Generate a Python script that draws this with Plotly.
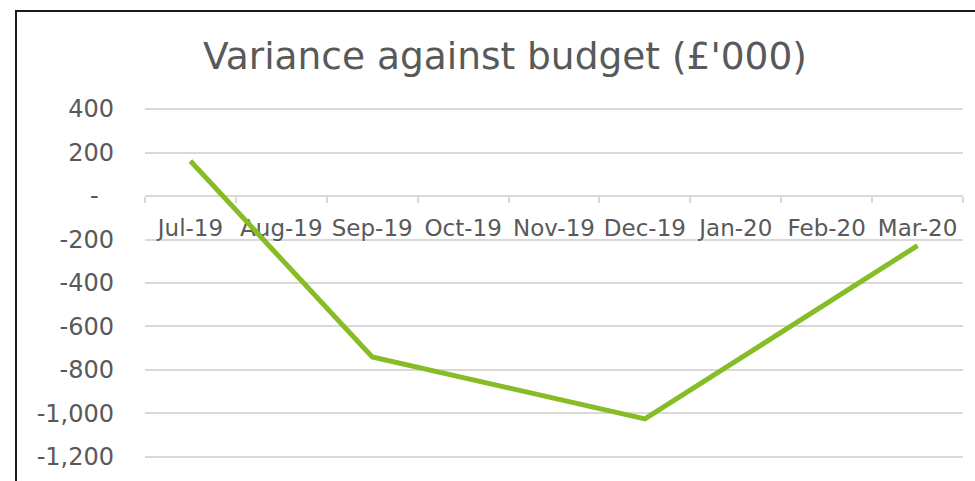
import plotly.graph_objects as go

months = ["Jul-19", "Aug-19", "Sep-19", "Oct-19", "Nov-19", "Dec-19", "Jan-20", "Feb-20", "Mar-20"]
variance = [161, None, -740, None, None, -1025, None, None, -228]

y_tickvals = [400, 200, 0, -200, -400, -600, -800, -1000, -1200]
y_ticktext = ["400", "200", "-\u2007", "-200", "-400", "-600", "-800", "-1,000", "-1,200"]

W, H = 975, 481
ML, MR, MT, MB = 145, 12, 108, 23
ymin, ymax = -1205, 405
pw = W - ML - MR
ph = H - MT - MB

GREY = "#595959"
GRID = "#d9d9d9"
FONT = "DejaVu Sans"

fig = go.Figure()
fig.add_trace(go.Scatter(
    x=months, y=variance, mode="lines", connectgaps=True,
    line=dict(color="#86BC25", width=5),
    showlegend=False, hoverinfo="x+y",
))

fig.update_layout(
    width=W, height=H,
    margin=dict(l=ML, r=MR, t=MT, b=MB, autoexpand=False),
    paper_bgcolor="white", plot_bgcolor="white",
    font=dict(family=FONT, color=GREY, size=24),
    title=dict(text="Variance against budget (£'000)", font=dict(family=FONT, size=37.5, color=GREY),
               x=505 / W, xref="container", xanchor="center",
               y=1 - 56 / H, yref="container", yanchor="middle"),
    xaxis=dict(
        type="category", categoryarray=months, categoryorder="array",
        range=[-0.5, len(months) - 0.5],
        anchor="free", position=(0 - ymin) / (ymax - ymin),
        showline=True, linecolor=GRID, linewidth=1.5,
        ticks="outside", ticklen=6, tickwidth=1.5, tickcolor=GRID, tickson="boundaries",
        showgrid=False, zeroline=False, tickangle=0, automargin=False,
        ticklabelstandoff=12,
        tickfont=dict(family=FONT, size=23, color=GREY),
        layer="below traces",
    ),
    yaxis=dict(
        range=[ymin, ymax], tickvals=y_tickvals, ticktext=y_ticktext,
        showgrid=True, gridcolor=GRID, gridwidth=1.5, zeroline=False, automargin=False,
        showline=False, ticks="", ticklabelstandoff=30,
        tickfont=dict(family=FONT, size=24, color=GREY),
    ),
    shapes=[dict(
        type="rect", xref="paper", yref="paper",
        x0=(16 - ML) / pw, x1=1 + 40 / pw,
        y0=-40 / ph, y1=1 + (MT - 11) / ph,
        line=dict(color="#1a1a1a", width=2), fillcolor="rgba(0,0,0,0)", layer="below",
    )],
)

fig.write_html("out.html", config={"displayModeBar": False},
               post_script="document.body.style.margin='0';document.body.style.overflow='hidden';")
